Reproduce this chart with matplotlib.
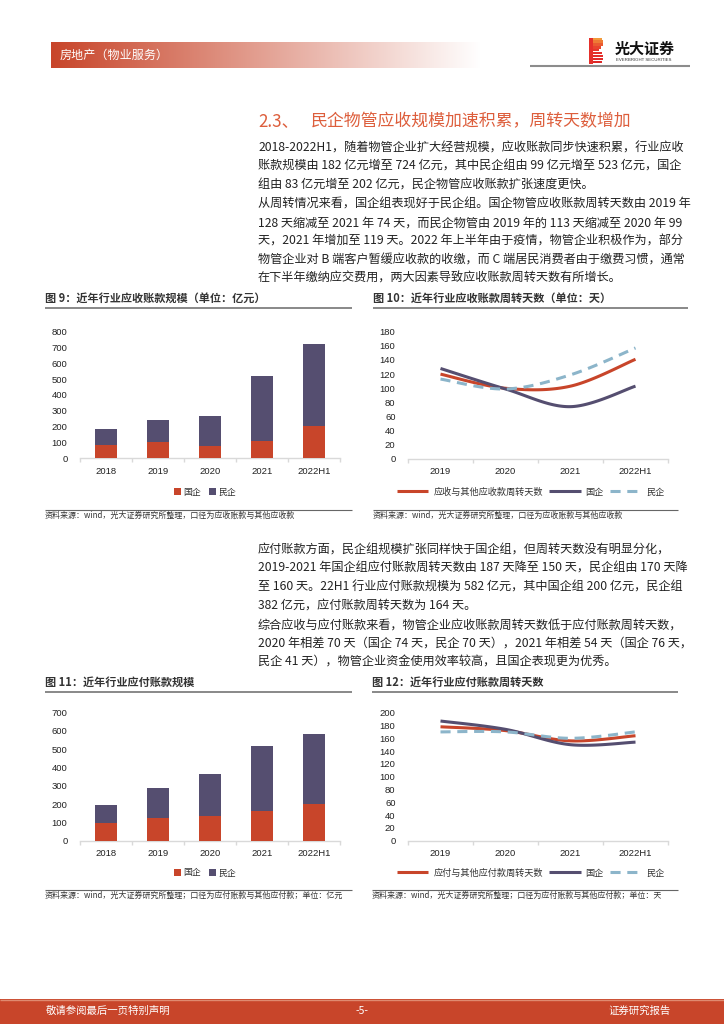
import numpy as np
import matplotlib
matplotlib.use('Agg')
import matplotlib.pyplot as plt
from matplotlib.patches import Rectangle

plt.rcParams['font.family'] = ['Noto Sans CJK SC', 'DejaVu Sans']

W, H = 724, 1024

RED = '#C8452A'
PURPLE = '#554E70'
BLUE = '#8CB5CA'
TXT = '#222222'
CAP = '#333333'
NUM_FONT = ['Liberation Sans', 'Noto Sans CJK SC']

# 图9 应收账款规模 (亿元)
years_bar = ['2018', '2019', '2020', '2021', '2022H1']
ar_state = [83, 105, 75, 108, 202]
ar_private = [99, 140, 195, 415, 522]
# 图11 应付账款规模 (亿元)
ap_state = [97, 124, 137, 162, 200]
ap_private = [96, 162, 229, 357, 382]

# 图10 / 图12 周转天数 (天)
years_line = ['2019', '2020', '2021', '2022H1']
ar_days_total = [120, 100, 103, 141]
ar_days_state = [128, 99, 74, 103]
ar_days_private = [113, 99, 119, 157]
ap_days_total = [178, 172, 156, 164]
ap_days_state = [187, 174, 150, 154]
ap_days_private = [170, 170, 160, 170]

para1 = ["2018-2022H1，随着物管企业扩大经营规模，应收账款同步快速积累，行业应收",
         "账款规模由 182 亿元增至 724 亿元，其中民企组由 99 亿元增至 523 亿元，国企",
         "组由 83 亿元增至 202 亿元，民企物管应收账款扩张速度更快。"]
para2 = ["从周转情况来看，国企组表现好于民企组。国企物管应收账款周转天数由 2019 年",
         "128 天缩减至 2021 年 74 天，而民企物管由 2019 年的 113 天缩减至 2020 年 99",
         "天，2021 年增加至 119 天。2022 年上半年由于疫情，物管企业积极作为，部分",
         "物管企业对 B 端客户暂缓应收款的收缴，而 C 端居民消费者由于缴费习惯，通常",
         "在下半年缴纳应交费用，两大因素导致应收账款周转天数有所增长。"]
para3 = ["应付账款方面，民企组规模扩张同样快于国企组，但周转天数没有明显分化，",
         "2019-2021 年国企组应付账款周转天数由 187 天降至 150 天，民企组由 170 天降",
         "至 160 天。22H1 行业应付账款规模为 582 亿元，其中国企组 200 亿元，民企组",
         "382 亿元，应付账款周转天数为 164 天。"]
para4 = ["综合应收与应付账款来看，物管企业应收账款周转天数低于应付账款周转天数，",
         "2020 年相差 70 天（国企 74 天，民企 70 天），2021 年相差 54 天（国企 76 天，",
         "民企 41 天），物管企业资金使用效率较高，且国企表现更为优秀。"]


fig = plt.figure(figsize=(W / 100, H / 100), dpi=100)

# 整页坐标系，单位为像素
page = fig.add_axes([0, 0, 1, 1])
page.set_xlim(0, W)
page.set_ylim(H, 0)
page.axis('off')


def axes_px(x0, y0, x1, y1):
    return fig.add_axes([x0 / W, 1 - y1 / H, (x1 - x0) / W, (y1 - y0) / H])


def hline(x0, x1, y, color, lw):
    page.plot([x0, x1], [y, y], color=color, lw=lw, solid_capstyle='butt')


def smooth(xs, ys, n=40):
    # Catmull-Rom 平滑，仿照 Excel 的平滑线
    pts = np.column_stack([xs, ys]).astype(float)
    P = np.vstack([pts[0], pts, pts[-1]])
    out = []
    t = np.linspace(0, 1, n)[:, None]
    for i in range(1, len(P) - 2):
        p0, p1, p2, p3 = P[i - 1], P[i], P[i + 1], P[i + 2]
        seg = 0.5 * (2 * p1 + (-p0 + p2) * t + (2 * p0 - 5 * p1 + 4 * p2 - p3) * t ** 2
                     + (-p0 + 3 * p1 - 3 * p2 + p3) * t ** 3)
        out.append(seg)
    return np.vstack(out)


# 页眉
rc = np.array(matplotlib.colors.to_rgb(RED))
frac = np.linspace(0, 1, 300)[None, :, None]
grad = rc[None, None, :] * (1 - frac) + np.ones(3)[None, None, :] * frac
page.imshow(grad, extent=(51, 481, 68, 42), aspect='auto', zorder=1)
page.text(60, 55.5, '房地产（物业服务）', color='white', fontsize=8.7, va='center', zorder=2)

# 标志
stripe_w = [12, 13, 13, 11, 9, 12, 13, 13, 12]
stripe_c = ['#F29A3A', '#EE7A35', '#EA5A31', '#E8432E', '#E6352C', '#E5302B', '#E32C2A', '#E02A2A', '#DC2828']
for i, (w, c) in enumerate(zip(stripe_w, stripe_c)):
    page.add_patch(Rectangle((590, 37.5 + i * 2.9), w, 2.3, color=c, lw=0, zorder=2))
page.add_patch(Rectangle((589, 37.5), 4, 26, color='#E5302B', lw=0, zorder=2))
page.text(615, 48.5, '光大证券', fontsize=10.8, fontweight='bold', color='#111111', va='center')
page.text(616, 60, 'EVERBRIGHT SECURITIES', fontsize=3.2, color='#333333', va='center',
          family=NUM_FONT)
hline(530, 690, 66, '#8C8C8C', 1.5)

# 标题与正文
title_c = '#DD5E3C'
page.text(258, 121, '2.3、', fontsize=12.2, color=title_c, va='center')
page.text(311, 121, '民企物管应收规模加速积累，周转天数增加', fontsize=12.2, color=title_c, va='center')


def paragraph(lines, y0, step=18.4):
    for i, s in enumerate(lines):
        page.text(258, y0 + i * step, s, fontsize=8.75, color=TXT, va='center')


paragraph(para1, 148)
paragraph(para2, 204.5)
paragraph(para3, 550)
paragraph(para4, 625)


def caption(x, y, x1, s):
    page.text(x, y, s, fontsize=8, fontweight='bold', color=CAP, va='center')
    hline(x, x1, y + 10, '#7F7F7F', 1.3)


def source(x, y, x1, s):
    hline(x, x1, y - 4, '#666666', 0.8)
    page.text(x, y + 1.5, s, fontsize=5.75, color=CAP, va='center')


def base_axes(ax, n, ymax, ystep):
    ax.set_xlim(-0.5, n - 0.5)
    ax.set_ylim(0, ymax)
    for s in ['top', 'right', 'left']:
        ax.spines[s].set_visible(False)
    ax.spines['bottom'].set_color('#D9D9D9')
    ax.spines['bottom'].set_linewidth(1)
    ax.set_yticks(np.arange(0, ymax + 1, ystep))
    ax.tick_params(axis='y', length=0, pad=9, labelsize=6.8, labelcolor='#222222')
    ax.tick_params(axis='x', length=0, pad=6, labelsize=6.8, labelcolor='#222222')
    ax.set_xticks(np.arange(-0.5, n, 1.0), minor=True)
    ax.tick_params(axis='x', which='minor', length=3, color='#D9D9D9', width=1)
    for lab in ax.get_yticklabels() + ax.get_xticklabels():
        lab.set_family(NUM_FONT)
    ax.patch.set_alpha(0)


def bar_chart(box, state, private, ymax, ystep, leg_xy):
    ax = axes_px(*box)
    x = np.arange(len(years_bar))
    ax.bar(x, state, width=0.43, color=RED, label='国企', zorder=3)
    ax.bar(x, private, width=0.43, bottom=state, color=PURPLE, label='民企', zorder=3)
    ax.set_xticks(x)
    ax.set_xticklabels(years_bar)
    base_axes(ax, len(years_bar), ymax, ystep)
    ax.legend(loc='center', bbox_to_anchor=(leg_xy[0] / W, 1 - leg_xy[1] / H),
              bbox_transform=fig.transFigure, ncol=2, frameon=False, fontsize=6.4,
              handlelength=0.75, handleheight=0.75, handletextpad=0.3, columnspacing=0.9,
              labelcolor='#333333')
    return ax


def line_chart(box, total, state, private, total_label, ymax, ystep, leg_xy):
    ax = axes_px(*box)
    x = np.arange(len(years_line))
    c = smooth(x, total)
    ax.plot(c[:, 0], c[:, 1], color=RED, lw=2.2, label=total_label, solid_capstyle='butt')
    c = smooth(x, state)
    ax.plot(c[:, 0], c[:, 1], color=PURPLE, lw=2.2, label='国企', solid_capstyle='butt')
    c = smooth(x, private)
    ax.plot(c[:, 0], c[:, 1], color=BLUE, lw=2.2, ls=(0, (3.3, 2.2)), label='民企')
    ax.set_xticks(x)
    ax.set_xticklabels(years_line)
    base_axes(ax, len(years_line), ymax, ystep)
    ax.legend(loc='center', bbox_to_anchor=(leg_xy[0] / W, 1 - leg_xy[1] / H),
              bbox_transform=fig.transFigure, ncol=3, frameon=False, fontsize=6.6,
              handlelength=3.4, handletextpad=0.55, columnspacing=0.7,
              labelcolor='#333333')
    return ax


# 图9 / 图10
caption(45, 298, 352, '图 9：近年行业应收账款规模（单位：亿元）')
caption(373, 298, 688, '图 10：近年行业应收账款周转天数（单位：天）')
bar_chart((80, 331.7, 340, 458.3), ar_state, ar_private, 800, 100, (205, 492))
line_chart((408, 331.7, 668, 459), ar_days_total, ar_days_state, ar_days_private,
           '应收与其他应收款周转天数', 180, 20, (531, 492))
source(45, 514, 352, '资料来源：wind，光大证券研究所整理，口径为应收账款与其他应收款')
source(373, 514, 678, '资料来源：wind，光大证券研究所整理，口径为应收账款与其他应收款')

# 图11 / 图12
caption(45, 682, 352, '图 11：近年行业应付账款规模')
caption(372, 682, 678, '图 12：近年行业应付账款周转天数')
bar_chart((80, 712.7, 340, 840.7), ap_state, ap_private, 700, 100, (205, 873))
line_chart((408, 712.7, 668, 840.7), ap_days_total, ap_days_state, ap_days_private,
           '应付与其他应付款周转天数', 200, 20, (531, 873))
source(45, 894, 352, '资料来源：wind，光大证券研究所整理；口径为应付账款与其他应付款；单位：亿元')
source(372, 894, 678, '资料来源：wind，光大证券研究所整理；口径为应付账款与其他应付款；单位：天')

# 页脚
page.add_patch(Rectangle((0, 999), W, 25, color=RED, lw=0))
hline(0, W, 999.5, '#E08A70', 1)
page.text(46, 1011, '敬请参阅最后一页特别声明', fontsize=7.5, color='white', va='center')
page.text(362, 1011, '-5-', fontsize=7.5, color='white', va='center', ha='center')
page.text(671, 1011, '证券研究报告', fontsize=7.5, color='white', va='center', ha='right')

fig.savefig('out.png', dpi=100)
